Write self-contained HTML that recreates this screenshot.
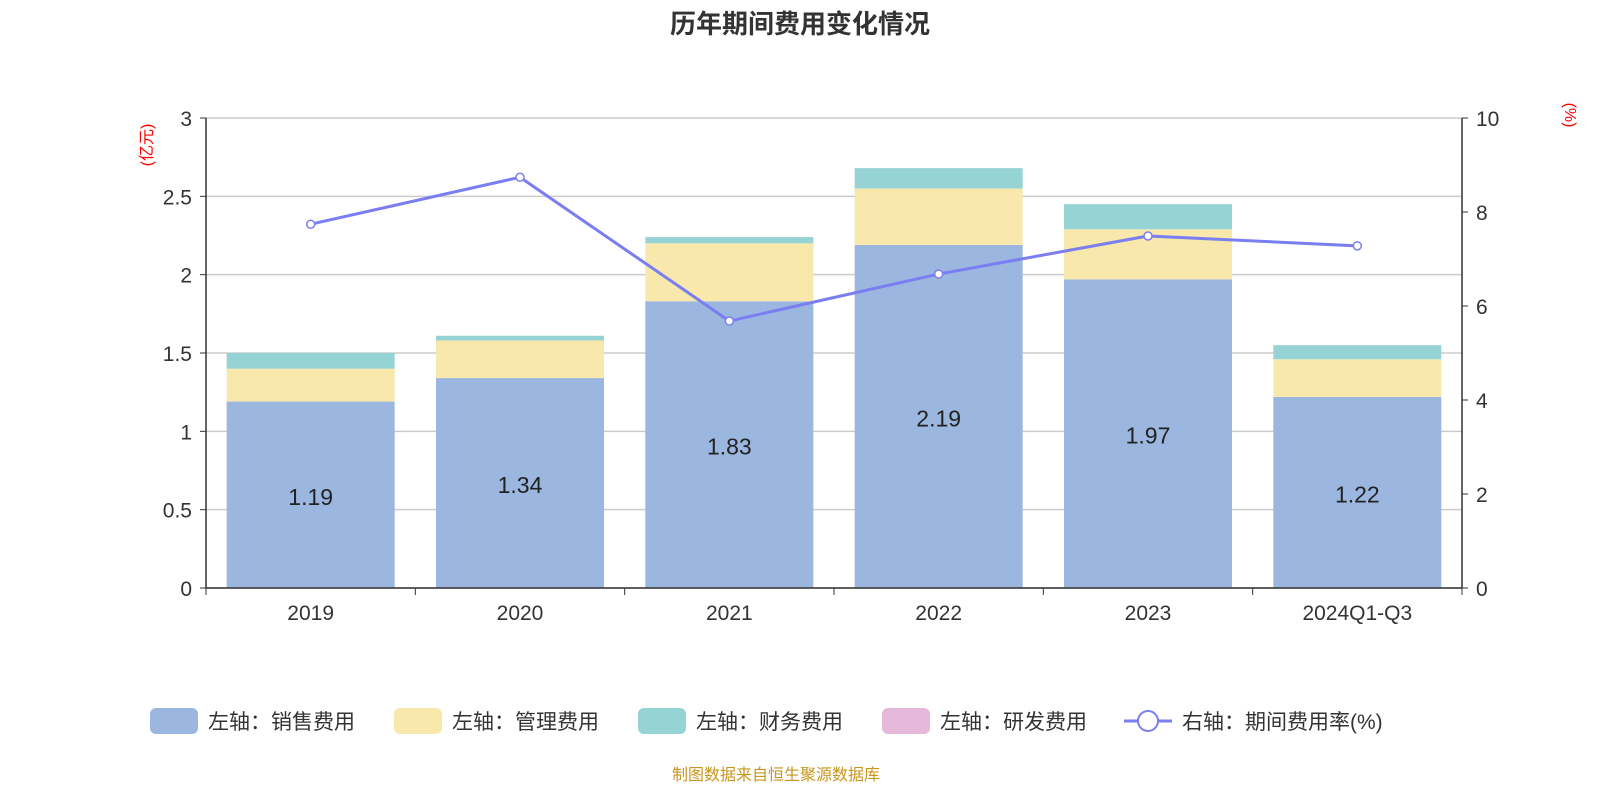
<!DOCTYPE html>
<html><head><meta charset="utf-8"><style>
body{margin:0;background:#fff;}
svg text{font-family:"Liberation Sans","Noto Sans CJK SC",sans-serif;}
</style></head><body>
<svg id="c" width="1600" height="800" xmlns="http://www.w3.org/2000/svg">
<text x="800" y="33" text-anchor="middle" font-size="26" font-weight="bold" fill="#333">历年期间费用变化情况</text>
<text transform="translate(152,145) rotate(-90)" text-anchor="middle" font-size="16" fill="#f00">(亿元)</text>
<text transform="translate(1565,115) rotate(90)" text-anchor="middle" font-size="16" fill="#f00">(%)</text>
<g id="grid"></g><g id="bars"></g><g id="axes"></g><g id="line"></g>
<g id="legend" font-size="21" fill="#333">
<rect x="150" y="708" width="48" height="26" rx="6" fill="#9bb7e0"/><text x="208" y="729">左轴：销售费用</text>
<rect x="394" y="708" width="48" height="26" rx="6" fill="#f8e8ab"/><text x="452" y="729">左轴：管理费用</text>
<rect x="638" y="708" width="48" height="26" rx="6" fill="#96d3d4"/><text x="696" y="729">左轴：财务费用</text>
<rect x="882" y="708" width="48" height="26" rx="6" fill="#e5b7d8"/><text x="940" y="729">左轴：研发费用</text>
<line x1="1124" y1="721" x2="1172" y2="721" stroke="#7b7ef0" stroke-width="3"/><circle cx="1148" cy="721" r="10" fill="#fff" stroke="#7b7ef0" stroke-width="2"/><text x="1182" y="729">右轴：期间费用率(%)</text>
</g>
<text x="776" y="780" text-anchor="middle" font-size="16" fill="#c8961e">制图数据来自恒生聚源数据库</text>
</svg>
<script>
const categories=["2019","2020","2021","2022","2023","2024Q1-Q3"];
const sales=[1.19,1.34,1.83,2.19,1.97,1.22];
const admin=[0.21,0.24,0.37,0.36,0.32,0.24];
const finance=[0.10,0.03,0.04,0.13,0.16,0.09];
const rate=[7.74,8.74,5.68,6.68,7.49,7.28];
const leftTicks=["0","0.5","1","1.5","2","2.5","3"];
const rightTicks=["0","2","4","6","8","10"];
const NS="http://www.w3.org/2000/svg";
const X0=206,X1=1462,Y0=588,Y1=118;
const yL=v=>Y0-(v/3)*(Y0-Y1);
const yR=v=>Y0-(v/10)*(Y0-Y1);
const band=(X1-X0)/categories.length;
const xC=i=>X0+band*(i+0.5);
function mk(t,a,p){const e=document.createElementNS(NS,t);for(const k in a)e.setAttribute(k,a[k]);p.appendChild(e);return e;}
const grid=document.getElementById('grid'),bars=document.getElementById('bars'),axes=document.getElementById('axes'),line=document.getElementById('line');
leftTicks.forEach(t=>{const y=yL(+t);
 const g=mk('line',{x1:X0,x2:X1,y1:y,y2:y,stroke:'#ccc','stroke-width':1.5},grid);
 
 
 mk('line',{x1:X0-6,x2:X0,y1:y,y2:y,stroke:'#333'},axes);
 const tx=mk('text',{x:X0-14,y:y+8,'text-anchor':'end','font-size':21,fill:'#333'},axes);tx.textContent=t;
 
 
});
rightTicks.forEach(t=>{const y=yR(+t);
 mk('line',{x1:X1,x2:X1+6,y1:y,y2:y,stroke:'#333'},axes);
 const tx=mk('text',{x:X1+14,y:y+8,'font-size':21,fill:'#333'},axes);tx.textContent=t;
 
 
});
mk('line',{x1:X0,x2:X0,y1:Y1,y2:Y0,stroke:'#333','stroke-width':1.5},axes);
mk('line',{x1:X1,x2:X1,y1:Y1,y2:Y0,stroke:'#333','stroke-width':1.5},axes);
mk('line',{x1:X0,x2:X1,y1:Y0,y2:Y0,stroke:'#333','stroke-width':1.5},axes);
for(let i=0;i<=categories.length;i++){const x=X0+band*i;mk('line',{x1:x,x2:x,y1:Y0,y2:Y0+7,stroke:'#333'},axes);}
const bw=168;
categories.forEach((c,i)=>{
 const x=xC(i)-bw/2;
 const segs=[[sales[i],'#9bb7e0','bar-sales'],[admin[i],'#f8e8ab','bar-admin'],[finance[i],'#96d3d4','bar-finance']];
 let base=0;
 segs.forEach(s=>{const r=mk('rect',{x:x,y:yL(base+s[0]),width:bw,height:yL(base)-yL(base+s[0]),fill:s[1]},bars);
  
  
  base+=s[0];});
 const lb=mk('text',{x:xC(i),y:(yL(0)+yL(sales[i]))/2+10,'text-anchor':'middle','font-size':23,fill:'#222'},bars);
 lb.textContent=sales[i].toFixed(2);
 
 
 const cl=mk('text',{x:xC(i),y:Y0+32,'text-anchor':'middle','font-size':21,fill:'#333'},axes);cl.textContent=c;
 
 
});
const pl=mk('polyline',{points:rate.map((v,i)=>xC(i)+','+yR(v)).join(' '),fill:'none',stroke:'#7b7ef0','stroke-width':3},line);


rate.forEach((v,i)=>{const p=mk('circle',{cx:xC(i),cy:yR(v),r:4,fill:'#fff',stroke:'#7b7ef0','stroke-width':1.5},line);
 
 });
</script>
</body></html>
